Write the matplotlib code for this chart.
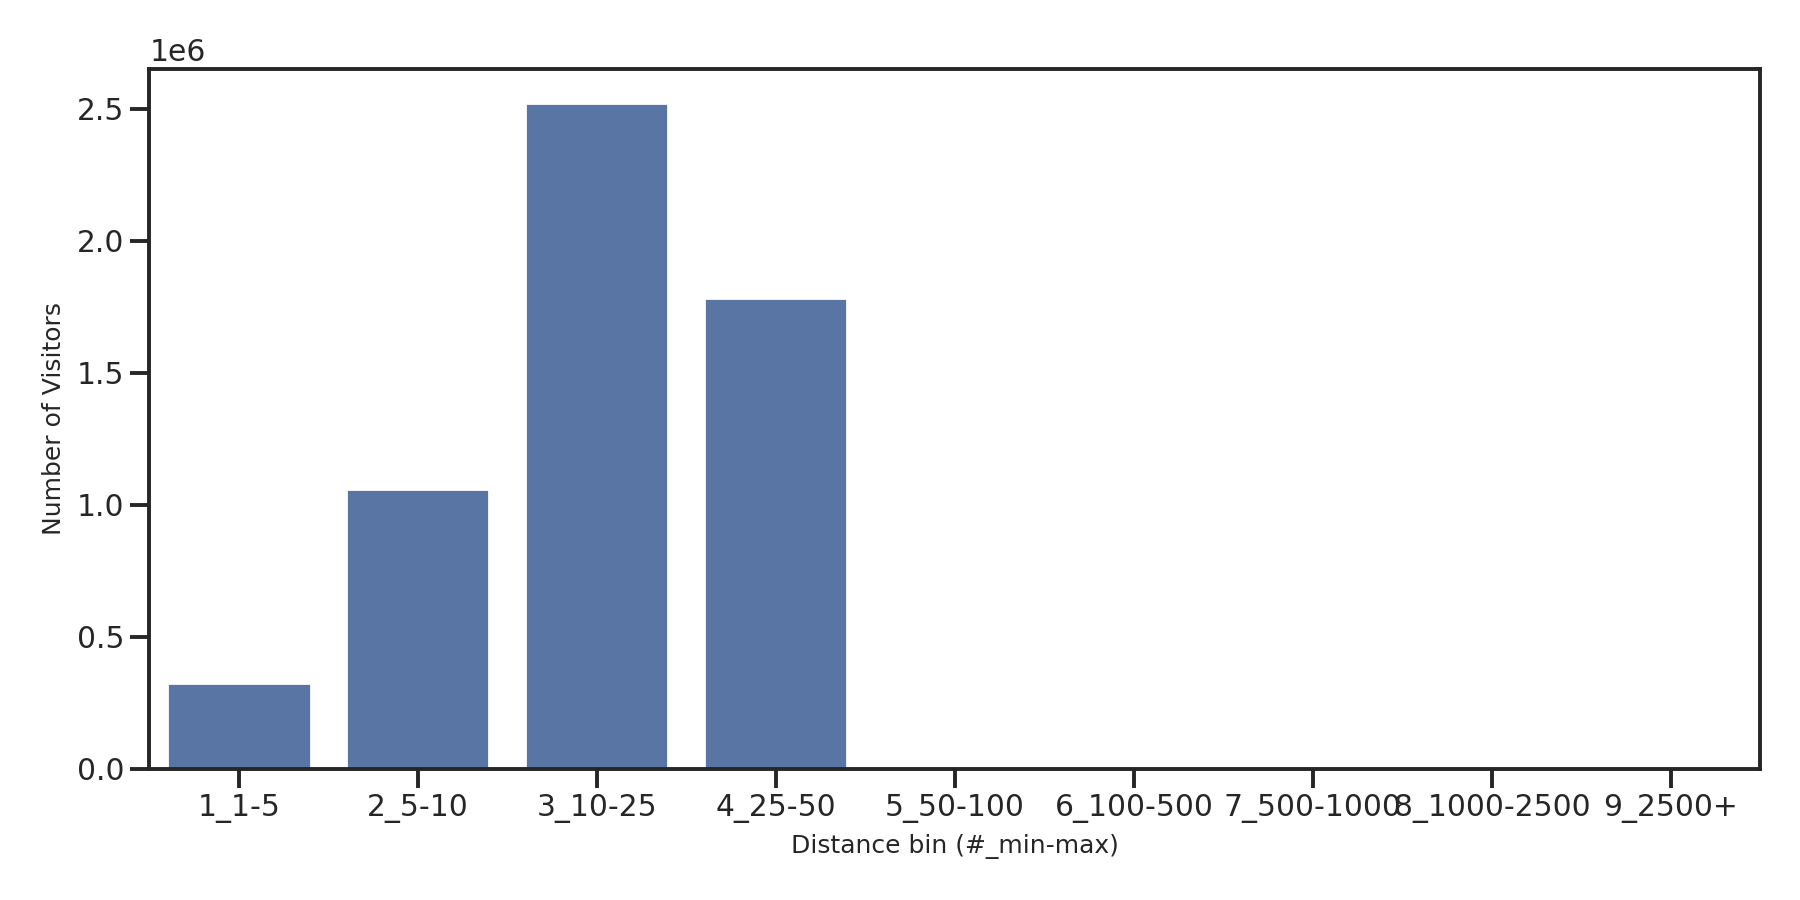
import matplotlib
matplotlib.use("Agg")
import matplotlib.pyplot as plt
import seaborn as sns

# distance bins and visitor counts
bins = ["1_1-5", "2_5-10", "3_10-25", "4_25-50", "5_50-100",
        "6_100-500", "7_500-1000", "8_1000-2500", "9_2500+"]
visitors = [325000, 1060000, 2524000, 1785000, 0, 0, 0, 0, 0]

sns.set_theme(style="ticks", context="notebook")
plt.rcParams["font.family"] = ["DejaVu Sans"]
plt.rcParams["axes.linewidth"] = 1.4

fig, ax = plt.subplots(figsize=(9, 4.5), dpi=200)
fig.subplots_adjust(left=0.083, right=0.978, top=0.923, bottom=0.146)

sns.barplot(x=bins, y=visitors, color="#4c72b0", ax=ax)

ax.set_xlabel("Distance bin (#_min-max)", fontsize=9)
ax.set_ylabel("Number of Visitors", fontsize=9)
ax.tick_params(axis="both", labelsize=10.7, length=6.8, width=1.4, pad=2.2)
ax.yaxis.get_offset_text().set_fontsize(10.7)

fig.savefig("out.png", dpi=200)
plt.close(fig)
